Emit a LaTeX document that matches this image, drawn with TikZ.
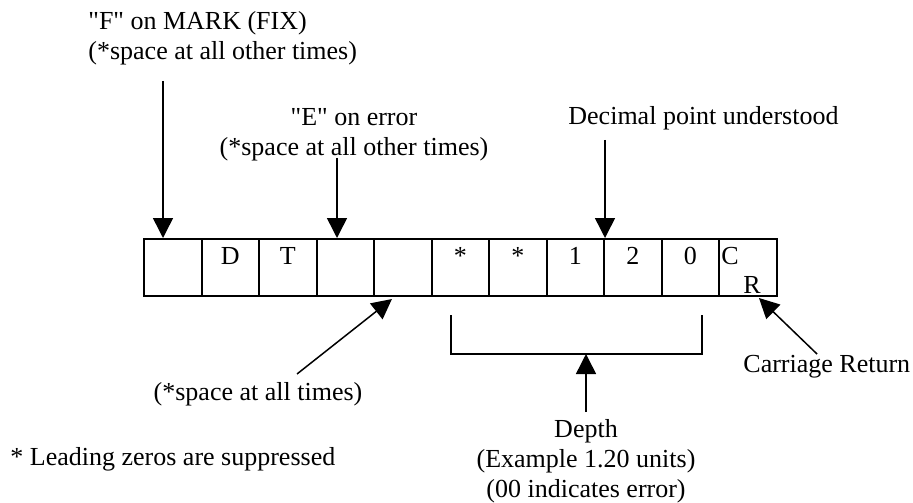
\documentclass[tikz,border=0pt]{standalone}
\usepackage{fontspec}
\setmainfont{Liberation Serif}
\usetikzlibrary{arrows.meta}

\begin{document}
\begin{tikzpicture}
	[x=0.5pt, y=-0.5pt,
	every node/.style={font=\fontsize{13}{15}\selectfont, inner sep=0pt},
	cell/.style={rectangle,draw=black,line width=1pt,minimum width=28.75pt,minimum height=28.5pt},
	chr/.style={anchor=base,yshift=-13pt},
	pointer/.style={-{Triangle[width=10pt,length=10pt]},line width=0.75pt}]

	\useasboundingbox (0,0) rectangle (913,502);

	% register cells
	\node (a) at ( 172.75,267.5 ) [cell] {};
	\node (b) at ( 230.25,267.5 ) [cell, label={[chr]90:D}] {};
	\node (c) at ( 287.75,267.5 ) [cell, label={[chr]90:T}] {};
	\node (d) at ( 345.25,267.5 ) [cell] {};
	\node (e) at ( 402.75,267.5 ) [cell] {};
	\node (f) at ( 460.25,267.5 ) [cell, label={[chr]90:*}] {};
	\node (g) at ( 517.75,267.5 ) [cell, label={[chr]90:*}] {};
	\node (h) at ( 575.25,267.5 ) [cell, label={[chr]90:1}] {};
	\node (i) at ( 632.75,267.5 ) [cell, label={[chr]90:2}] {};
	\node (j) at ( 690.25,267.5 ) [cell, label={[chr]90:0}] {};
	\node (k) at ( 747.75,267.5 ) [cell, label={[chr, anchor=base west, xshift=1.5pt]north west:C},
		label={[chr, yshift=-14.5pt, xshift=2.1pt]90:R}] {};

	% texts
	\node (l) at ( 88,38.5 ) [anchor=west, align=left] {\textquotedbl F\textquotedbl{} on MARK (FIX)\\(*space at all other times)};
	\node (m) at ( 354,135 ) [align=center] {\textquotedbl E\textquotedbl{} on error\\(*space at all other times)};
	\node (n) at ( 568,125 ) [anchor=base west] {Decimal point understood};
	\node (o) at ( 258,400 ) [anchor=base] {(*space at all times)};
	\node (p) at ( 10,465 ) [anchor=base west] {* Leading zeros are suppressed};
	\node (q) at ( 586,419 ) [anchor=north, align=center] {Depth\\(Example 1.20 units)\\(00 indicates error)};
	\node (r) at ( 743,372 ) [anchor=base west] {Carriage Return};

	% pointers into the register
	\coordinate (s) at ( 163,81 );
	\coordinate (t) at ( 337,158 );
	\coordinate (u) at ( 605,140 );
	\coordinate (v) at ( 297,374 );
	\coordinate (w) at ( 817,354 );
	\draw [pointer] (s) -- (s |- a.north);
	\draw [pointer] (t) -- (t |- d.north);
	\draw [pointer] (u) -- (u |- h.north);
	\draw [pointer] (v) -- ([xshift=-5.4pt,yshift=-1pt]e.south);
	\draw [pointer] (w) -- ([xshift=5.6pt,yshift=-0.5pt]k.south);

	% depth bracket
	\coordinate (x) at ( 451,315 );
	\coordinate (y) at ( 702,315 );
	\coordinate (z) at ( 586,412 );
	\draw [line width=0.75pt] (x) -- ++(0,39) -| (y);
	\draw [pointer] (z) -- ++(0,-58);

\end{tikzpicture}
\end{document}
